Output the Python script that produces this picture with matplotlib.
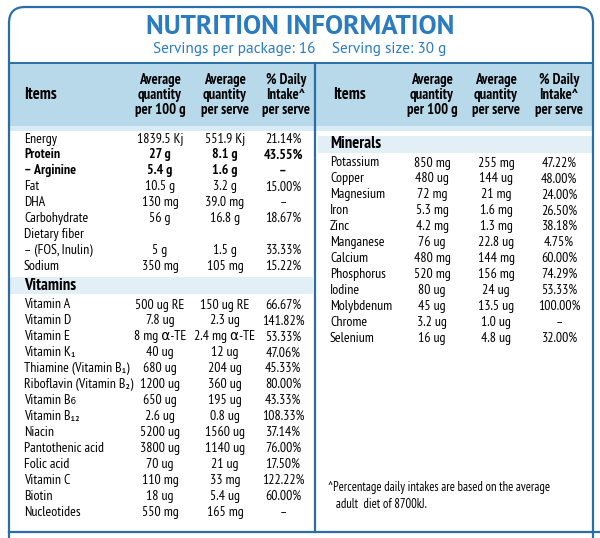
import matplotlib
matplotlib.use("Agg")
from matplotlib import pyplot as plt
from matplotlib.patches import Rectangle, FancyBboxPatch

plt.rcParams['font.family'] = ['PT Sans Narrow', 'DejaVu Sans']

title = "NUTRITION INFORMATION"
subtitle = "Servings per package: 16    Serving size: 30 g"
col_heads = ["Items", "Average\nquantity\nper 100 g", "Average\nquantity\nper serve", "% Daily\nIntake^\nper serve"]

# main nutrients
main_items = ["Energy", "Protein", "– Arginine", "Fat", "DHA", "Carbohydrate", "Dietary fiber", "– (FOS, Inulin)", "Sodium"]
main_100g = ["1839.5 Kj", "27 g", "5.4 g", "10.5 g", "130 mg", "56 g", "", "5 g", "350 mg"]
main_serve = ["551.9 Kj", "8.1 g", "1.6 g", "3.2 g", "39.0 mg", "16.8 g", "", "1.5 g", "105 mg"]
main_pct = ["21.14%", "43.55%", "–", "15.00%", "–", "18.67%", "", "33.33%", "15.22%"]
main_bold = [False, True, True, False, False, False, False, False, False]

# vitamins
vit_items = ["Vitamin A", "Vitamin D", "Vitamin E", "Vitamin K₁", "Thiamine (Vitamin B₁)",
             "Riboflavin (Vitamin B₂)", "Vitamin B₆", "Vitamin B₁₂", "Niacin", "Pantothenic acid",
             "Folic acid", "Vitamin C", "Biotin", "Nucleotides"]
vit_100g = ["500 ug RE", "7.8 ug", "8 mg α-TE", "40 ug", "680 ug", "1200 ug", "650 ug", "2.6 ug",
            "5200 ug", "3800 ug", "70 ug", "110 mg", "18 ug", "550 mg"]
vit_serve = ["150 ug RE", "2.3 ug", "2.4 mg α-TE", "12 ug", "204 ug", "360 ug", "195 ug", "0.8 ug",
             "1560 ug", "1140 ug", "21 ug", "33 mg", "5.4 ug", "165 mg"]
vit_pct = ["66.67%", "141.82%", "53.33%", "47.06%", "45.33%", "80.00%", "43.33%", "108.33%",
           "37.14%", "76.00%", "17.50%", "122.22%", "60.00%", "–"]

# minerals
min_items = ["Potassium", "Copper", "Magnesium", "Iron", "Zinc", "Manganese", "Calcium",
             "Phosphorus", "Iodine", "Molybdenum", "Chrome", "Selenium"]
min_100g = ["850 mg", "480 ug", "72 mg", "5.3 mg", "4.2 mg", "76 ug", "480 mg", "520 mg",
            "80 ug", "45 ug", "3.2 ug", "16 ug"]
min_serve = ["255 mg", "144 ug", "21 mg", "1.6 mg", "1.3 mg", "22.8 ug", "144 mg", "156 mg",
             "24 ug", "13.5 ug", "1.0 ug", "4.8 ug"]
min_pct = ["47.22%", "48.00%", "24.00%", "26.50%", "38.18%", "4.75%", "60.00%", "74.29%",
           "53.33%", "100.00%", "–", "32.00%"]

footnote = "^Percentage daily intakes are based on the average\n   adult  diet of 8700kJ."

blue = "#2a6ea8"
title_blue = "#2b7bc0"
head_bg = "#b7d9ea"
band_bg = "#e3eff6"
fs = 10
step = 15.95

fig = plt.figure(figsize=(6.0, 5.38), dpi=100)
ax = fig.add_axes([0, 0, 1, 1])
ax.set_xlim(0, 600)
ax.set_ylim(538, 0)
ax.axis("off")

# frame
ax.add_patch(Rectangle((9, 63), 584, 63, facecolor=head_bg, edgecolor="none"))
ax.add_patch(Rectangle((9, 126), 584, 5, facecolor="#d9ebf4", edgecolor="none"))
ax.add_patch(Rectangle((10, 277), 303, 17, facecolor=band_bg, edgecolor="none"))
ax.add_patch(Rectangle((318, 136), 274, 17, facecolor=band_bg, edgecolor="none"))
ax.add_patch(FancyBboxPatch((9, 7), 584, 560, boxstyle="round,pad=0,rounding_size=16",
                            facecolor="none", edgecolor=blue, lw=1.6))
ax.plot([9, 593], [63, 63], color=blue, lw=1.4)
ax.plot([9, 600], [532, 532], color=blue, lw=1.6)
ax.plot([315, 315], [63, 532], color=blue, lw=1.6)

# title in the wider cut
ax.text(300, 27, title, ha="center", va="center", fontsize=19.5, fontweight="bold",
        color=title_blue, family=["PT Sans", "DejaVu Sans"])
ax.text(300, 49, subtitle, ha="center", va="center", fontsize=11,
        color=title_blue, family=["PT Sans", "DejaVu Sans"])

# column headers
for x0, cols in [(24, [160, 225, 286]), (333, [432, 496, 559])]:
    ax.text(x0, 95, col_heads[0], ha="left", va="center", fontsize=12, fontweight="bold")
    for cx, h in zip(cols, col_heads[1:]):
        ax.text(cx, 95, h, ha="center", va="center", fontsize=fs + 0.5, fontweight="bold", linespacing=1.05)


def draw_rows(x0, cols, y0, items, c1, c2, c3, bold=None):
    for i, name in enumerate(items):
        y = y0 + i * step
        w = "bold" if bold and bold[i] else "normal"
        ax.text(x0, y, name, ha="left", va="center", fontsize=fs, fontweight=w)
        for cx, v in zip(cols, (c1[i], c2[i], c3[i])):
            ax.text(cx, y, v, ha="center", va="center", fontsize=fs, fontweight=w)


left_cols = [160, 225, 283]
right_cols = [432, 496, 559]
draw_rows(24, left_cols, 139, main_items, main_100g, main_serve, main_pct, main_bold)
ax.text(24, 286, "Vitamins", ha="left", va="center", fontsize=12, fontweight="bold")
draw_rows(24, left_cols, 305, vit_items, vit_100g, vit_serve, vit_pct)
ax.text(330, 144, "Minerals", ha="left", va="center", fontsize=12, fontweight="bold")
draw_rows(330, right_cols, 163, min_items, min_100g, min_serve, min_pct)

ax.text(328, 496, footnote, ha="left", va="center", fontsize=9, linespacing=1.4)

fig.savefig("out.png", dpi=100)
